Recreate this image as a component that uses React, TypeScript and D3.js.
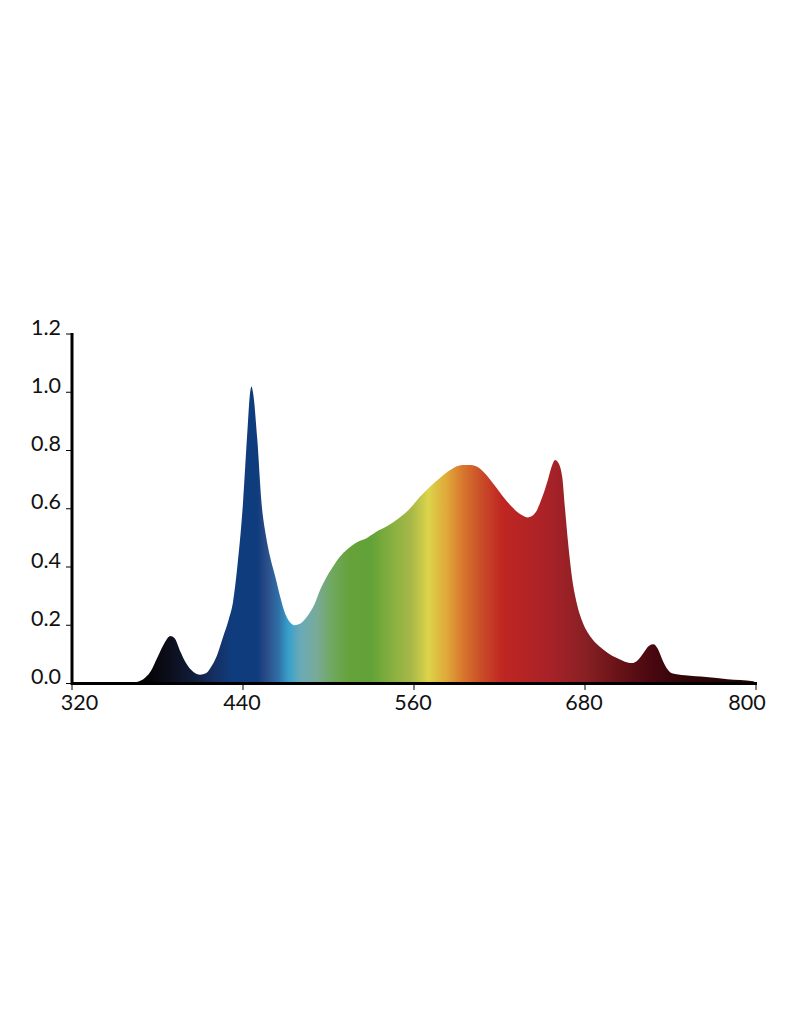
import React from "react";
import * as d3 from "d3";

const wavelengths = [320, 360, 365, 370, 375, 380, 385, 389, 392, 396, 400, 405, 410, 414, 418, 422, 426, 430, 433, 436, 440, 443, 445, 446, 447, 450, 453, 456, 459, 463, 466, 470, 473, 476, 480, 485, 490, 494, 498, 503, 508, 513, 520, 527, 535, 541, 550, 557, 564, 571, 578, 586, 594, 600, 604, 610, 615, 622, 629, 635, 640, 645, 650, 654, 657, 659, 661, 664, 666, 668, 671, 674, 678, 684, 690, 696, 702, 708, 713, 717, 721, 725, 728, 731, 734, 737, 741, 750, 765, 780, 798, 800];
const intensity = [0, 0, 0.005, 0.015, 0.04, 0.09, 0.14, 0.163, 0.155, 0.11, 0.07, 0.04, 0.03, 0.035, 0.06, 0.1, 0.16, 0.22, 0.28, 0.4, 0.62, 0.86, 1.0, 1.02, 1.0, 0.84, 0.62, 0.51, 0.435, 0.36, 0.3, 0.235, 0.21, 0.2, 0.205, 0.23, 0.27, 0.32, 0.36, 0.4, 0.435, 0.46, 0.485, 0.5, 0.525, 0.54, 0.57, 0.6, 0.64, 0.675, 0.705, 0.735, 0.75, 0.75, 0.745, 0.72, 0.69, 0.645, 0.605, 0.58, 0.57, 0.585, 0.64, 0.7, 0.75, 0.767, 0.76, 0.71, 0.6, 0.49, 0.36, 0.28, 0.215, 0.16, 0.128, 0.105, 0.088, 0.075, 0.07, 0.08, 0.105, 0.13, 0.135, 0.12, 0.085, 0.055, 0.035, 0.028, 0.022, 0.015, 0.008, 0];

const gradientNm = [320, 375, 390, 405, 420, 432, 450, 456, 465, 472, 480, 492, 502, 515, 530, 545, 558, 570, 583, 594, 608, 622, 655, 680, 702, 726, 750, 800];
const gradientColors = ["#000000", "#050508", "#0d0f1e", "#111c3a", "#152f62", "#0f3c7c", "#0f3c7c", "#2a4b86", "#3070a8", "#38a0cc", "#6aaab8", "#78aa98", "#70a860", "#65a23a", "#62a238", "#88b040", "#a8b848", "#dcd44a", "#e0a83a", "#d8782e", "#c84a28", "#c02622", "#a82228", "#882024", "#6a1418", "#4a0810", "#300508", "#200505"];

const xTicks = [320, 440, 560, 680, 800];
const yTicks = [0, 0.2, 0.4, 0.6, 0.8, 1.0, 1.2];

export default function App() {
  const x = d3.scaleLinear().domain([320, 800]).range([72, 756]);
  const y = d3.scaleLinear().domain([0, 1.2]).range([683.5, 334]);
  const pts: [number, number][] = wavelengths.map((w, i) => [w, intensity[i]]);
  const area = d3
    .area<[number, number]>()
    .x((d) => x(d[0]))
    .y0(y(0))
    .y1((d) => y(d[1]))
    .curve(d3.curveMonotoneX);
  const font = "Lato, 'Open Sans', sans-serif";
  return (
    <svg width={800} height={1024} style={{ position: "absolute", left: 0, top: 0, background: "#fff" }}>
      <defs>
        <linearGradient id="spec" gradientUnits="userSpaceOnUse" x1={x(320)} x2={x(800)} y1={0} y2={0}>
          {gradientNm.map((w, i) => (
            <stop key={i} offset={(w - 320) / 480} stopColor={gradientColors[i]} />
          ))}
        </linearGradient>
      </defs>
      <path d={area(pts) || ""} fill="url(#spec)" />
      {/* y axis */}
      <line x1={72} x2={72} y1={333} y2={685} stroke="#000" strokeWidth={3} />
      {yTicks.map((t) => (
        <g key={t}>
          <line x1={66} x2={72} y1={y(t)} y2={y(t)} stroke="#000" strokeWidth={1} />
          <text x={61} y={y(t) + 0.5} textAnchor="end" fontFamily={font} fontSize={21.5} fill="#111">
            {t.toFixed(1)}
          </text>
        </g>
      ))}
      {/* x axis */}
      <line x1={71} x2={757} y1={683.5} y2={683.5} stroke="#000" strokeWidth={3} />
      {xTicks.map((t, i) => (
        <g key={t}>
          <line x1={x(t)} x2={x(t)} y1={683} y2={690} stroke="#000" strokeWidth={1} />
          <text
            x={x(t) + (i === 0 ? 7.5 : i === xTicks.length - 1 ? -9 : -1)}
            y={710}
            textAnchor="middle"
            fontFamily={font}
            fontSize={21.5}
            fill="#111"
          >
            {t}
          </text>
        </g>
      ))}
    </svg>
  );
}
